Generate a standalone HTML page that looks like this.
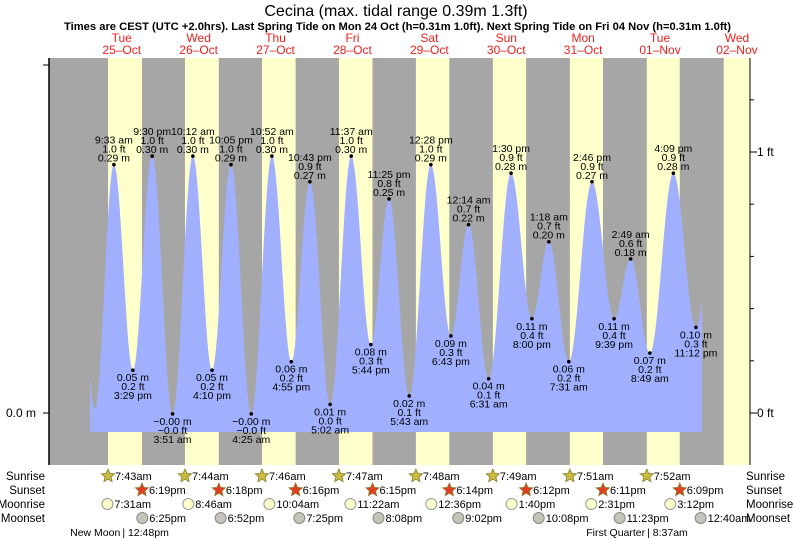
<!DOCTYPE html>
<html><head><meta charset="utf-8"><style>
body{margin:0;background:#fff;}
svg{display:block;font-family:"Liberation Sans",sans-serif;}
</style></head><body>
<svg id="c" width="793" height="539" viewBox="0 0 793 539">
<text x="396" y="16" font-size="16" text-anchor="middle">Cecina (max. tidal range 0.39m 1.3ft)</text>
<text x="64" y="30" font-size="11" font-weight="bold" textLength="667" lengthAdjust="spacingAndGlyphs">Times are CEST (UTC +2.0hrs). Last Spring Tide on Mon 24 Oct (h=0.31m 1.0ft). Next Spring Tide on Fri 04 Nov (h=0.31m 1.0ft)</text>
<rect x="49" y="58" width="701" height="407" fill="#a6a6a6"/>
<g id="bands"></g>
<g id="tide"></g>
<g id="labels" font-size="10.5" text-anchor="middle" fill="#000"></g>
<g id="axes"></g>
<g id="days" font-size="12" text-anchor="middle" fill="#e8201c"></g>
<g id="astro" font-size="11"></g>
</svg>
<script>
const sunriseTimes=["7:43am","7:44am","7:46am","7:47am","7:48am","7:49am","7:51am","7:52am","7:53am"];
const sunsetTimes=["6:19pm","6:18pm","6:16pm","6:15pm","6:14pm","6:12pm","6:11pm","6:09pm","6:08pm"];
const dayNames=["Tue","Wed","Thu","Fri","Sat","Sun","Mon","Tue","Wed"];
const dayDates=["25\u2013Oct","26\u2013Oct","27\u2013Oct","28\u2013Oct","29\u2013Oct","30\u2013Oct","31\u2013Oct","01\u2013Nov","02\u2013Nov"];
const moonriseTimes=["7:31am","8:46am","10:04am","11:22am","12:36pm","1:40pm","2:31pm","3:12pm"];
const moonsetTimes=["6:25pm","6:52pm","7:25pm","8:08pm","9:02pm","10:08pm","11:23pm","","12:40am"];
const tideDays=[0,0,0,1,1,1,1,2,2,2,2,3,3,3,3,4,4,4,5,5,5,5,6,6,6,6,7,7,7,7];
const tideTimes=["9:33 am","3:29 pm","9:30 pm","3:51 am","10:12 am","4:10 pm","10:05 pm","4:25 am","10:52 am","4:55 pm","10:43 pm","5:02 am","11:37 am","5:44 pm","11:25 pm","5:43 am","12:28 pm","6:43 pm","12:14 am","6:31 am","1:30 pm","8:00 pm","1:18 am","7:31 am","2:46 pm","9:39 pm","2:49 am","8:49 am","4:09 pm","11:12 pm"];
const tideHeights=[0.29,0.05,0.30,-0.001,0.30,0.05,0.29,-0.001,0.30,0.06,0.27,0.01,0.30,0.08,0.25,0.02,0.29,0.09,0.22,0.04,0.28,0.11,0.20,0.06,0.27,0.11,0.18,0.07,0.28,0.10];
const tideFeet=["1.0","0.2","1.0","\u22120.0","1.0","0.2","1.0","\u22120.0","1.0","0.2","0.9","0.0","1.0","0.3","0.8","0.1","1.0","0.3","0.7","0.1","0.9","0.4","0.7","0.2","0.9","0.4","0.6","0.2","0.9","0.3"];
const edgeStart=[-2.5,0.28,3.6,0.005];
const edgeEnd=[197.5,0.25];

const NS="http://www.w3.org/2000/svg";
const X0=83.3, PXH=76.9/24, Y0=413, PXM=261/0.3048;
const xH=h=>X0+h*PXH, yM=m=>Y0-m*PXM;
function parseT(s){const m=s.match(/(\d+):(\d+)\s*(am|pm)/);if(!m)return null;let h=+m[1]%12;if(m[3]==='pm')h+=12;return h+ +m[2]/60;}
function mk(tag,attrs,parent,text){const e=document.createElementNS(NS,tag);for(const k in attrs)e.setAttribute(k,attrs[k]);if(text!==undefined)e.textContent=text;parent.appendChild(e);return e;}
const fmtM=v=>(v<0?"\u22120.00":v.toFixed(2))+" m";

const bands=document.getElementById('bands');
for(let d=0;d<dayNames.length;d++){
  const x1=Math.max(49,xH(d*24+parseT(sunriseTimes[d]))), x2=Math.min(750,xH(d*24+parseT(sunsetTimes[d])));
  if(x2<=x1)continue;
  const r=mk('rect',{x:x1,y:58,width:x2-x1,height:407,fill:'#ffffcc'},bands);
  
  
}
const ext=[[edgeStart[0],edgeStart[1]],[edgeStart[2],edgeStart[3]]];
tideTimes.forEach((t,i)=>ext.push([tideDays[i]*24+parseT(t),tideHeights[i]]));
ext.push([edgeEnd[0],edgeEnd[1]]);
function hAt(h){for(let i=0;i<ext.length-1;i++){const a=ext[i],b=ext[i+1];if(h>=a[0]&&h<=b[0]){const f=(h-a[0])/(b[0]-a[0]);return a[1]+(b[1]-a[1])*(1-Math.cos(Math.PI*f))/2;}}return 0;}
const hs=(90-X0)/PXH, he=(702-X0)/PXH, yb=432;
let d=`M${xH(hs)},${yb}`;
for(let h=hs;h<=he;h+=0.1)d+=` L${xH(h).toFixed(2)},${yM(hAt(h)).toFixed(2)}`;
d+=` L${xH(he)},${yM(hAt(he))} L${xH(he)},${yb} Z`;
const tp=mk('path',{d:d,fill:'#a0b0ff'},document.getElementById('tide'));


const lg=document.getElementById('labels');
tideTimes.forEach((t,i)=>{
  const h=tideDays[i]*24+parseT(t), x=xH(h), y=yM(tideHeights[i]);
  const high=(i===0)?true:(tideHeights[i]>(tideHeights[i-1]));
  const dot=mk('circle',{cx:x,cy:y,r:1.8,fill:'#000'},lg);
  
  
  const lines=high?[t,tideFeet[i]+" ft",fmtM(tideHeights[i])]:[fmtM(tideHeights[i]),tideFeet[i]+" ft",t];
  const ys=high?[y-21,y-12,y-3]:[y+11,y+20,y+29];
  lines.forEach((s,k)=>{const e=mk('text',{x:x,y:ys[k]},lg,s);
    
    });
});
const ax=document.getElementById('axes');
mk('line',{x1:49,y1:58,x2:49,y2:465,stroke:'#000','stroke-width':1.5},ax);
mk('line',{x1:750,y1:58,x2:750,y2:465,stroke:'#000','stroke-width':1},ax);
mk('line',{x1:43,y1:413,x2:49,y2:413,stroke:'#000'},ax);
mk('line',{x1:43,y1:65,x2:49,y2:65,stroke:'#000'},ax);
const yl=mk('text',{x:36,y:417,'font-size':12,'text-anchor':'end'},ax,"0.0 m");

for(let k=0;k<=6;k++){const y=413-k*52.2;mk('line',{x1:750,y1:y,x2:k%5===0?757:754,y2:y,stroke:'#000'},ax);}
mk('text',{x:757,y:417,'font-size':12},ax,"0 ft");
mk('text',{x:757,y:156,'font-size':12},ax,"1 ft");
const dg=document.getElementById('days');
for(let k=0;k<dayNames.length;k++){const x=xH(k*24+12);
  const a=mk('text',{x:x,y:42},dg,dayNames[k]);
  const b=mk('text',{x:x,y:54},dg,dayDates[k]);}
const ag=document.getElementById('astro');
[["Sunrise",480],["Sunset",494],["Moonrise",508],["Moonset",522]].forEach(([n,y])=>{
  mk('text',{x:45,y:y,'text-anchor':'end','font-size':11.5},ag,n);
  mk('text',{x:746,y:y,'font-size':11.5},ag,n);});
function star(cx,cy,fill,name){let p="";for(let k=0;k<10;k++){const r=k%2?3.2:7,a=-Math.PI/2+k*Math.PI/5;p+=(cx+r*Math.cos(a)).toFixed(1)+","+(cy+r*Math.sin(a)).toFixed(1)+" ";}
  const s=mk('polygon',{points:p,fill:fill,stroke:'#8a7a30','stroke-width':0.8},ag);}
for(let k=0;k<8;k++){
  let x=xH(k*24+parseT(sunriseTimes[k]));star(x,476,'#c8bc40','sunrise-icon');mk('text',{x:x+7,y:480},ag,sunriseTimes[k]);
  x=xH(k*24+parseT(sunsetTimes[k]));star(x,490,'#e04020','sunset-icon');mk('text',{x:x+7,y:494},ag,sunsetTimes[k]);
  x=xH(k*24+parseT(moonriseTimes[k]));const c=mk('circle',{cx:x,cy:504,r:5.5,fill:'#ffffcc',stroke:'#999'},ag);
  mk('text',{x:x+7,y:508},ag,moonriseTimes[k]);
}
moonsetTimes.forEach((t,k)=>{if(!t)return;const x=xH(k*24+parseT(t));const c=mk('circle',{cx:x,cy:518,r:5.5,fill:'#c4c4b8',stroke:'#888'},ag);
  mk('text',{x:x+7,y:522},ag,t);});
[["New Moon","| 12:48pm",12.8],["First Quarter","| 8:37am",176.6]].forEach(([a,b,h])=>{const x=xH(h);
  const t1=mk('text',{x:x-4,y:536,'text-anchor':'end','font-size':10.5},ag,a);
  mk('text',{x:x-2,y:536,'font-size':10.5},ag,b);});
</script>
</body></html>
